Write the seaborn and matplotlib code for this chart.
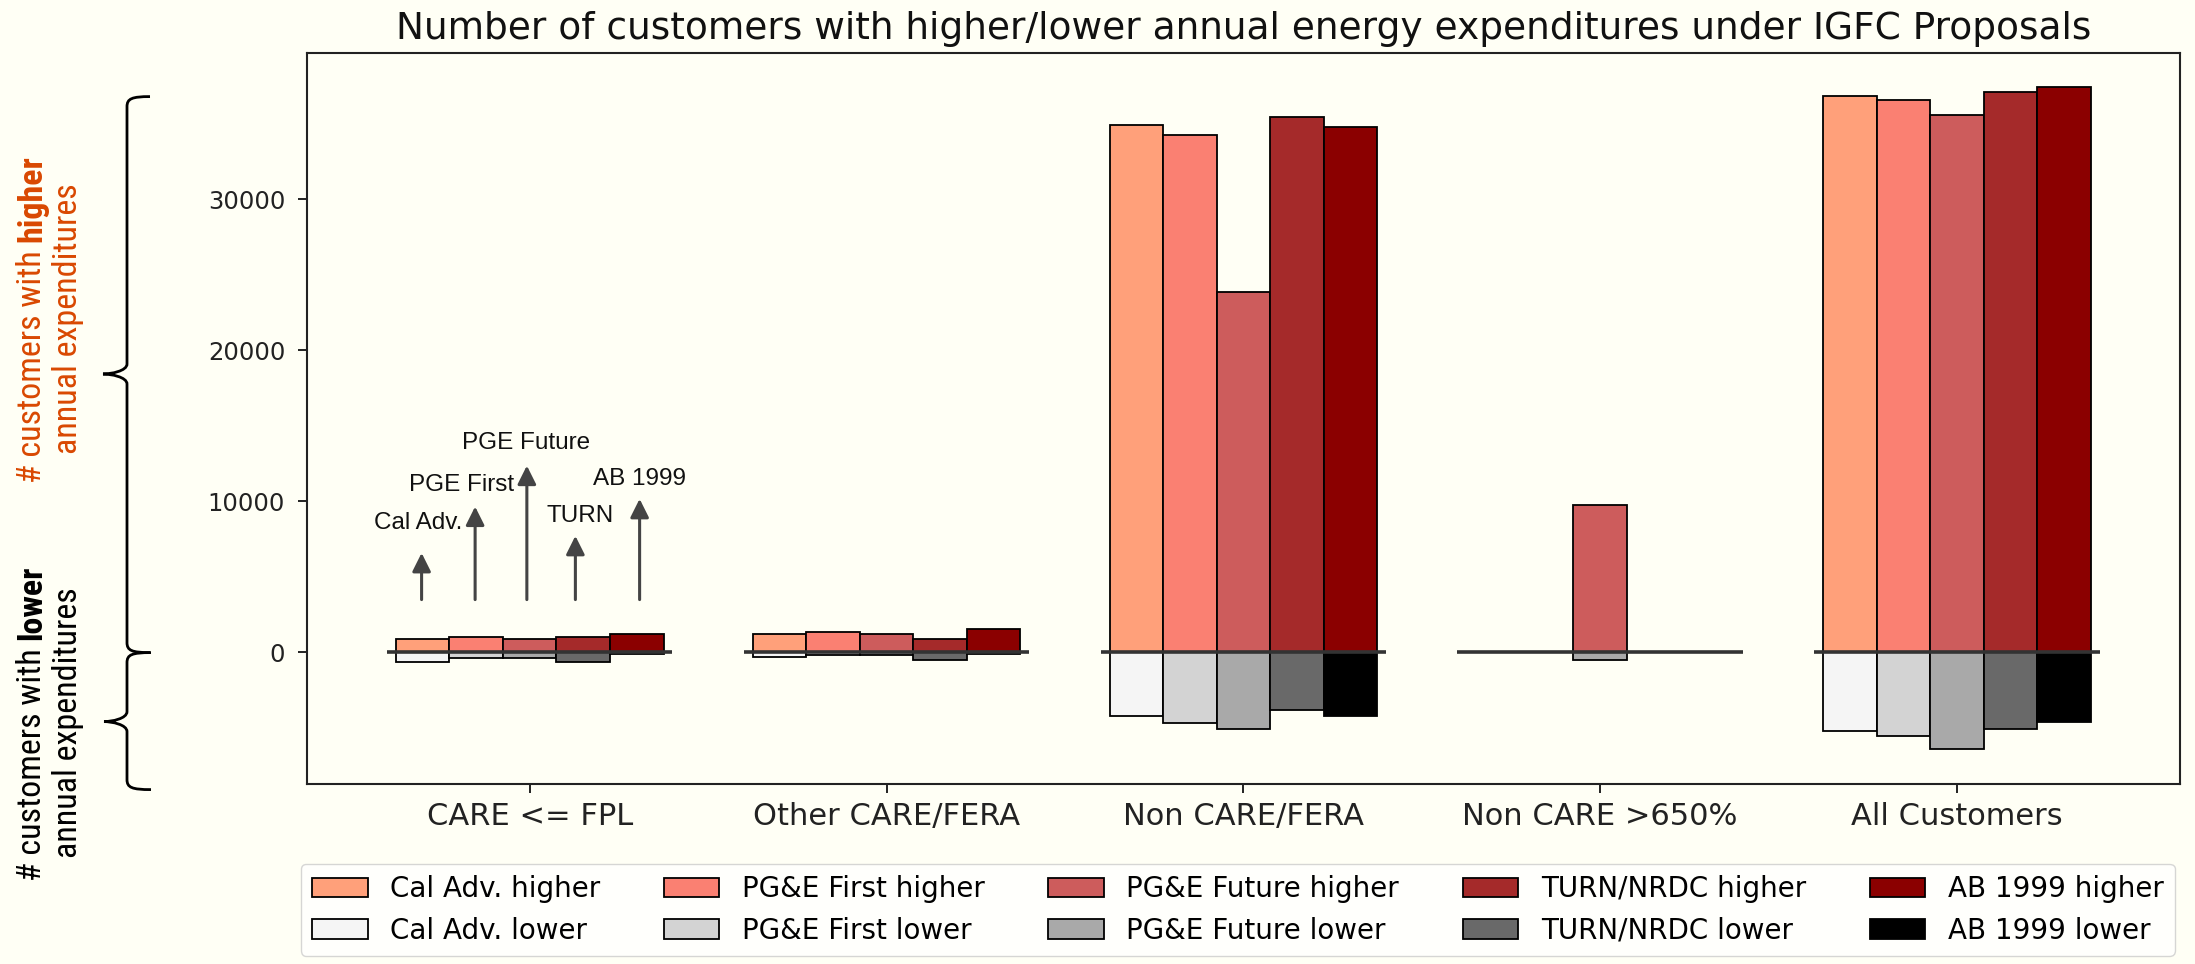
import matplotlib
matplotlib.use("Agg")
import matplotlib.pyplot as plt
from matplotlib.patches import Patch, PathPatch
from matplotlib.path import Path
from matplotlib import font_manager
from matplotlib.font_manager import FontProperties
import seaborn as sns
import pandas as pd

# ---------------- data ----------------
categories = ['CARE <= FPL', 'Other CARE/FERA', 'Non CARE/FERA', 'Non CARE >650%', 'All Customers']
proposals = ['Cal Adv.', 'PG&E First', 'PG&E Future', 'TURN/NRDC', 'AB 1999']

cal_adv_higher = [875, 1200, 34900, 0, 36850]
pge_first_higher = [1000, 1380, 34250, 0, 36570]
pge_future_higher = [920, 1230, 23850, 9750, 35580]
turn_higher = [1000, 920, 35450, 0, 37100]
ab1999_higher = [1250, 1530, 34800, 0, 37430]

cal_adv_lower = [-610, -300, -4200, 0, -5180]
pge_first_lower = [-400, -175, -4650, 0, -5550]
pge_future_lower = [-400, -175, -5070, -500, -6410]
turn_lower = [-610, -480, -3810, 0, -5070]
ab1999_lower = [-100, -90, -4200, 0, -4600]

higher_colors = ['#FFA07A', '#FA8072', '#CD5C5C', '#A52A2A', '#8B0000']
lower_colors = ['#F5F5F5', '#D3D3D3', '#A9A9A9', '#696969', '#000000']

arrow_labels = ['Cal Adv.', 'PGE First', 'PGE Future', 'TURN', 'AB 1999']
arrow_tips = [6590, 9660, 12370, 7720, 10170]

# ---------------- build tables ----------------
higher = [cal_adv_higher, pge_first_higher, pge_future_higher, turn_higher, ab1999_higher]
lower = [cal_adv_lower, pge_first_lower, pge_future_lower, turn_lower, ab1999_lower]
hi_labels = [p + ' higher' for p in proposals]
lo_labels = [p + ' lower' for p in proposals]

rows_hi, rows_lo = [], []
for j, p in enumerate(proposals):
    for i, c in enumerate(categories):
        rows_hi.append({'category': c, 'series': hi_labels[j], 'value': higher[j][i]})
        rows_lo.append({'category': c, 'series': lo_labels[j], 'value': lower[j][i]})
df_hi = pd.DataFrame(rows_hi)
df_lo = pd.DataFrame(rows_lo)

# ---------------- figure ----------------
W, H = 2195, 964
BG = '#FFFFF5'
plt.rcParams['font.family'] = ['DejaVu Sans']
fig = plt.figure(figsize=(W / 100, H / 100), dpi=100, facecolor=BG)
ax = fig.add_axes([306.7 / W, 1 - 783.5 / H, (2180 - 306.7) / W, (783.5 - 53) / H])
ax.set_facecolor(BG)

common = dict(x='category', y='value', hue='series', order=categories, width=0.75,
              saturation=1, edgecolor='black', linewidth=1.3, errorbar=None,
              legend=False, ax=ax, dodge=True, gap=0)
sns.barplot(data=df_hi, hue_order=hi_labels, palette=higher_colors, **common)
sns.barplot(data=df_lo, hue_order=lo_labels, palette=lower_colors, **common)

for i in range(len(categories)):
    ax.hlines(0, i - 0.4, i + 0.4, color='#333333', lw=2.6, zorder=4)

ax.set_xlim(-0.625, 4.625)
ax.set_ylim(-8680, 39700)
ax.set_yticks([0, 10000, 20000, 30000])
ax.set_xlabel('')
ax.set_ylabel('')
for s in ax.spines.values():
    s.set_visible(True)
    s.set_color('#222222')
    s.set_linewidth(1.5)
ax.tick_params(axis='y', labelsize=17.5, length=6.5, width=1.4, pad=9, colors='#222222')
ax.tick_params(axis='x', labelsize=22, length=6.5, width=1.4, pad=7, colors='#222222')
ax.grid(False)
ax.set_title('Number of customers with higher/lower annual energy expenditures under IGFC Proposals',
             fontsize=27, pad=10, color='#111111')

# arrows with labels over the first group
arrow_x = [-0.303, -0.153, -0.008, 0.128, 0.308]
label_x = [-0.312, -0.19, -0.01, 0.14, 0.308]
label_y = [8576, 11090, 13870, 9040, 11500]
for ax_x, tip, lx, ly, lab in zip(arrow_x, arrow_tips, label_x, label_y, arrow_labels):
    ax.annotate('', xy=(ax_x, tip), xytext=(ax_x, 3500),
                arrowprops=dict(arrowstyle='-|>', color='#444444', lw=2.2,
                                mutation_scale=28, shrinkA=0, shrinkB=0), zorder=5)
    ax.text(lx, ly, lab, ha='center', va='center', fontsize=17.5,
            family=['Liberation Sans', 'DejaVu Sans'], color='#111111')

# legend
handles, labels = [], []
for j in range(len(proposals)):
    handles.append(Patch(facecolor=higher_colors[j], edgecolor='black', lw=1.3))
    labels.append(hi_labels[j])
    handles.append(Patch(facecolor=lower_colors[j], edgecolor='black', lw=1.3))
    labels.append(lo_labels[j])
ax.legend(handles, labels, ncol=5, loc='upper center', bbox_to_anchor=(0.497, -0.091),
          fontsize=20, frameon=True, edgecolor='#cccccc', columnspacing=2.3)

# ---------------- left annotations (braces + rotated text) ----------------
renderer = fig.canvas.get_renderer()
ttf = font_manager.fontManager.ttflist


def pick_condensed():
    priority = ['Liberation Sans Narrow', 'Arial Narrow', 'Roboto Condensed',
                'Open Sans Condensed', 'Noto Sans Condensed', 'DejaVu Sans Condensed',
                'Noto Sans', 'DejaVu Sans', 'Roboto', 'Open Sans', 'Lato', 'Inter']
    def is_cond(f):
        st = str(f.stretch).lower()
        return ('condensed' in st or 'narrow' in st or 'Condensed' in f.name
                or 'Narrow' in f.name or 'condensed' in f.fname.lower()
                or 'narrow' in f.fname.lower())
    cands = [f for f in ttf if is_cond(f) and 'mono' not in f.fname.lower()
             and 'serif' not in f.fname.lower() and str(f.style) == 'normal']
    def wnum(f):
        w = f.weight
        if isinstance(w, str):
            return font_manager.weight_dict.get(w, 400)
        return w
    for name in priority:
        grp = [f for f in cands if f.name == name]
        if not grp:
            continue
        reg = [f for f in grp if wnum(f) == 400 and 'italic' not in f.fname.lower()
               and 'oblique' not in f.fname.lower()]
        bold = [f for f in grp if wnum(f) >= 700 and 'italic' not in f.fname.lower()
                and 'oblique' not in f.fname.lower()]
        if reg:
            r = FontProperties(fname=reg[0].fname)
            b = FontProperties(fname=bold[0].fname) if bold else FontProperties(fname=reg[0].fname, weight='bold')
            return r, b
    return (FontProperties(family='Liberation Sans'),
            FontProperties(family='Liberation Sans', weight='bold'))


FP_REG, FP_BOLD = pick_condensed()


def px2fig(x, y):
    return x / W, 1 - y / H


def make_fp(bold, fs):
    fp = (FP_BOLD if bold else FP_REG).copy()
    fp.set_size(fs)
    return fp


def line_length(parts, fs):
    total = 0
    for txt, bold, color, gap in parts:
        t = fig.text(0, 0, txt, rotation=90, rotation_mode='anchor', ha='left', va='baseline',
                     fontproperties=make_fp(bold, fs))
        total += t.get_window_extent(renderer).height + gap * fs * 100 / 72
        t.remove()
    return total


def draw_line(x_base, y_center, parts, fs):
    total = line_length(parts, fs)
    y = y_center + total / 2
    for txt, bold, color, gap in parts:
        t = fig.text(*px2fig(x_base, y), txt, rotation=90, rotation_mode='anchor', ha='left',
                     va='baseline', color=color, fontproperties=make_fp(bold, fs))
        y -= t.get_window_extent(renderer).height + gap * fs * 100 / 72


ORANGE = '#D94801'
line2 = [('annual expenditures', False, ORANGE, 0)]
fs0 = 20
fs = fs0 * 270 / line_length(line2, fs0)

draw_line(41, 319, [('# customers with', False, ORANGE, 0.25), ('higher', True, ORANGE, 0)], fs)
draw_line(77, 319, [('annual expenditures', False, ORANGE, 0)], fs)
draw_line(41, 723, [('# customers with', False, 'black', 0.25), ('lower', True, 'black', 0)], fs)
draw_line(77, 723, [('annual expenditures', False, 'black', 0)], fs)


def brace(yt, ym, yb, xs=127, xe=150, xt=103, r=10):
    pts = [
        (xe, yt), (xs + 5, yt), (xs, yt + 2), (xs, yt + r),
        (xs, ym - r), (xs, ym - 3), (xt + 8, ym), (xt, ym),
        (xt + 8, ym), (xs, ym + 3), (xs, ym + r),
        (xs, yb - r), (xs, yb - 2), (xs + 5, yb), (xe, yb),
    ]
    codes = [Path.MOVETO, Path.CURVE4, Path.CURVE4, Path.CURVE4,
             Path.LINETO, Path.CURVE4, Path.CURVE4, Path.CURVE4,
             Path.CURVE4, Path.CURVE4, Path.CURVE4,
             Path.LINETO, Path.CURVE4, Path.CURVE4, Path.CURVE4]
    verts = [px2fig(x, y) for x, y in pts]
    p = PathPatch(Path(verts, codes), transform=fig.transFigure, fill=False,
                  edgecolor='black', lw=2.0)
    fig.add_artist(p)


brace(96.6, 374, 652.6)
brace(652.6, 721.6, 789.6, xt=104, xe=151)

fig.savefig('out.png', dpi=100, facecolor=BG)
